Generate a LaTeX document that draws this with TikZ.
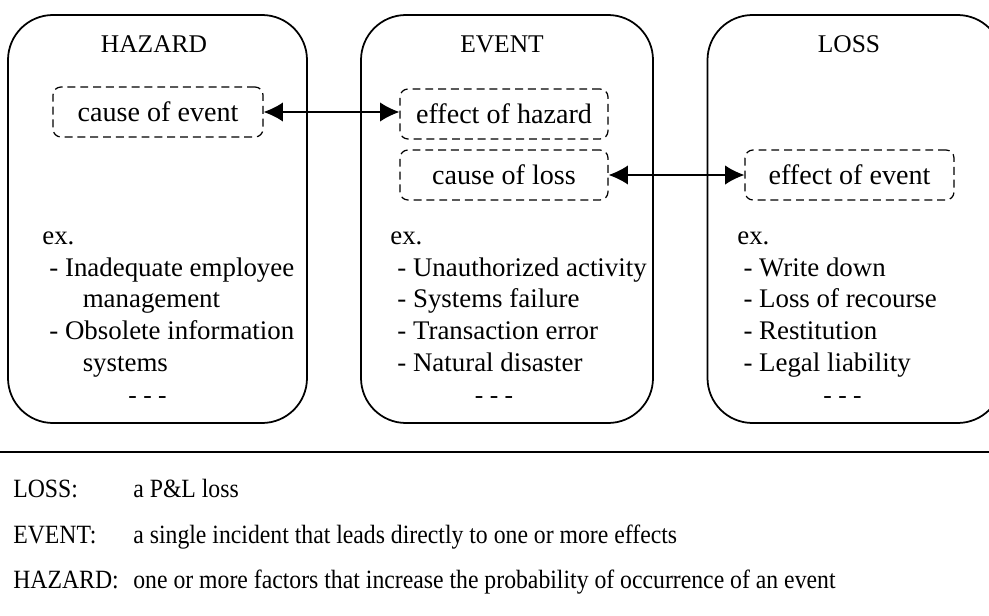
\documentclass[tikz,border=0pt]{standalone}
\usepackage{fontspec}
\setmainfont{Liberation Serif}
\usepackage{graphicx}
\usepackage{tikz}
\usetikzlibrary{arrows.meta}

\newcommand{\squeezed}[1]{\scalebox{0.9}[1]{#1}}

\begin{document}
\begin{tikzpicture}[
    stage/.style={draw, line width=1pt, rounded corners=0.9cm, minimum width=5.98cm, minimum height=8.16cm},
    tag/.style={draw, dash pattern=on 4.5pt off 2.8pt, line width=0.7pt, rounded corners=0.16cm, minimum width=4.2cm, minimum height=1cm, font=\fontsize{16}{18}\selectfont},
    twoway/.style={{Latex[length=11pt,width=11pt]}-{Latex[length=11pt,width=11pt]}, line width=0.8pt},
    heading/.style={anchor=base, inner sep=0pt, font=\fontsize{14.5}{18}\selectfont},
    examples/.style={align=left, anchor=north west, inner sep=0pt, font=\fontsize{15.3}{18.2}\selectfont},
    keyword/.style={anchor=base west, inner sep=0pt, font=\fontsize{15}{18}\selectfont}
]
\useasboundingbox (0,0) rectangle (19.78,-12.3);

% the three stages
\node[stage] (hazard) at (3.15,-4.38) {};
\node[stage, minimum width=5.84cm] (event) at (10.14,-4.38) {};
\node[stage, minimum width=5.9cm] (loss) at (17.1,-4.38) {};

\node[heading] (hazardtitle) at (3.08,-1.06) {HAZARD};
\node[heading] (eventtitle) at (10.04,-1.06) {EVENT};
\node[heading] (losstitle) at (16.98,-1.06) {LOSS};

% cause / effect tags
\node[tag] (causeevent) at (3.16,-2.24) {cause of event};
\node[tag, minimum width=4.16cm] (effecthazard) at (10.08,-2.28) {effect of hazard};
\node[tag, minimum width=4.16cm] (causeloss) at (10.08,-3.5) {cause of loss};
\node[tag, minimum width=4.18cm] (effectevent) at (16.99,-3.5) {effect of event};

\draw[twoway] (causeevent.east) -- (causeevent.east -| effecthazard.west);
\draw[twoway] (causeloss.east) -- (effectevent.west);

% examples
\node[examples] (hazardex) at (0.84,-4.62) {ex.\\\hspace*{4pt}- Inadequate employee\\\hspace*{23pt}management\\\hspace*{4pt}- Obsolete information\\\hspace*{23pt}systems};
\node[examples] (eventex) at (7.8,-4.62) {ex.\\\hspace*{4pt}- Unauthorized activity\\\hspace*{4pt}- Systems failure\\\hspace*{4pt}- Transaction error\\\hspace*{4pt}- Natural disaster};
\node[examples] (lossex) at (14.74,-4.62) {ex.\\\hspace*{3.5pt}- Write down\\\hspace*{3.5pt}- Loss of recourse\\\hspace*{3.5pt}- Restitution\\\hspace*{3.5pt}- Legal liability};

\node[heading] (hazardmore) at (2.95,-8.06) {- - -};
\node[heading] (eventmore) at (9.88,-8.06) {- - -};
\node[heading] (lossmore) at (16.85,-8.06) {- - -};

% definitions
\draw[line width=1pt] (0,-9.04) -- (19.78,-9.04);

\node[keyword] (losskey) at (0.26,-9.94) {\squeezed{LOSS:}};
\node[keyword] (lossdef) at (2.66,-9.94) {\squeezed{a P\&L loss}};
\node[keyword] (eventkey) at (0.26,-10.86) {\squeezed{EVENT:}};
\node[keyword] (eventdef) at (2.66,-10.86) {\squeezed{a single incident that leads directly to one or more effects}};
\node[keyword] (hazardkey) at (0.26,-11.76) {\squeezed{HAZARD:}};
\node[keyword] (hazarddef) at (2.66,-11.76) {\squeezed{one or more factors that increase the probability of occurrence of an event}};
\end{tikzpicture}
\end{document}
